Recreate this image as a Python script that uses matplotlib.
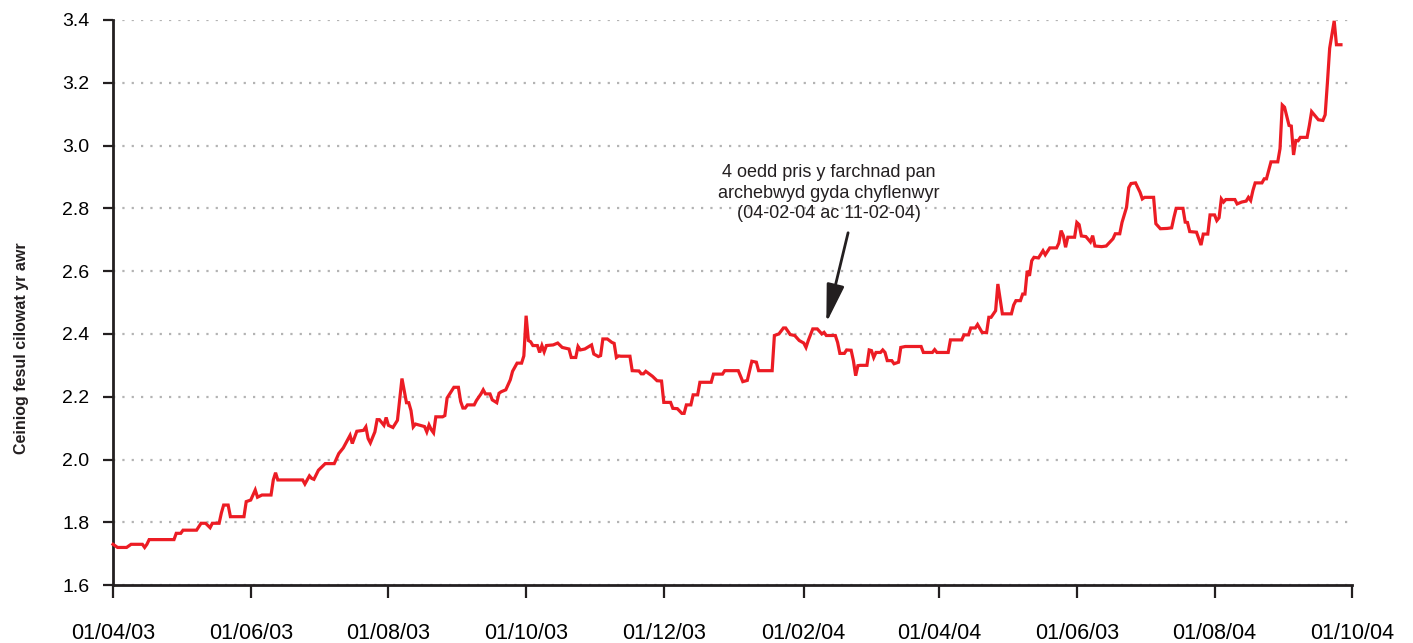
import pandas as pd
import matplotlib
matplotlib.use('Agg')
import matplotlib.pyplot as plt

plt.rcParams['font.family'] = ['Liberation Sans', 'DejaVu Sans']

# pris y farchnad (ceiniog/kWh)
dates_2003 = ['04-01', '04-03', '04-07', '04-09', '04-14', '04-15', '04-16', '04-17', '04-28', '04-29',
              '05-01', '05-02', '05-08', '05-10', '05-12', '05-14', '05-15', '05-18', '05-19', '05-20',
              '05-22', '05-23', '05-29', '05-30', '06-01', '06-03', '06-04', '06-06', '06-10', '06-11',
              '06-12', '06-13', '06-24', '06-25', '06-27', '06-28', '06-29', '07-01', '07-04', '07-08',
              '07-10', '07-12', '07-15', '07-16', '07-18', '07-21', '07-22', '07-23', '07-24', '07-26',
              '07-27', '07-28', '07-30', '07-31', '08-01', '08-03', '08-05', '08-07', '08-09', '08-10',
              '08-11', '08-12', '08-13', '08-15', '08-17', '08-18', '08-19', '08-20', '08-21', '08-22',
              '08-25', '08-26', '08-27', '08-30', '09-01', '09-02', '09-03', '09-04', '09-05', '09-08',
              '09-09', '09-11', '09-12', '09-13', '09-15', '09-16', '09-18', '09-19', '09-20', '09-22',
              '09-24', '09-25', '09-27', '09-29', '09-30', '10-01', '10-02', '10-03', '10-04', '10-06',
              '10-07', '10-08', '10-09', '10-10', '10-13', '10-15', '10-17', '10-20', '10-21', '10-23',
              '10-24', '10-25', '10-27', '10-30', '10-31', '11-02', '11-03', '11-04', '11-06', '11-08',
              '11-09', '11-10', '11-11', '11-12', '11-16', '11-17', '11-20', '11-21', '11-22', '11-23',
              '11-26', '11-28', '11-30', '12-01', '12-04', '12-05', '12-07', '12-09', '12-10', '12-11',
              '12-13', '12-14', '12-16', '12-17', '12-22', '12-23', '12-27', '12-28']
price_2003 = [1.73, 1.72, 1.72, 1.73, 1.73, 1.72, 1.73, 1.745, 1.745, 1.765,
              1.765, 1.775, 1.775, 1.797, 1.797, 1.783, 1.797, 1.797, 1.83, 1.855,
              1.855, 1.818, 1.818, 1.866, 1.871, 1.903, 1.88, 1.887, 1.887, 1.935,
              1.958, 1.935, 1.935, 1.922, 1.948, 1.94, 1.937, 1.966, 1.987, 1.987,
              2.019, 2.037, 2.077, 2.051, 2.09, 2.093, 2.104, 2.067, 2.053, 2.088,
              2.127, 2.127, 2.109, 2.134, 2.109, 2.102, 2.125, 2.258, 2.181, 2.181,
              2.156, 2.104, 2.113, 2.109, 2.105, 2.088, 2.11, 2.095, 2.085, 2.136,
              2.136, 2.14, 2.196, 2.23, 2.23, 2.185, 2.164, 2.164, 2.174, 2.174,
              2.188, 2.209, 2.222, 2.209, 2.209, 2.19, 2.181, 2.211, 2.216, 2.222,
              2.254, 2.281, 2.307, 2.307, 2.33, 2.458, 2.379, 2.375, 2.363, 2.363,
              2.341, 2.363, 2.343, 2.363, 2.365, 2.371, 2.357, 2.352, 2.325, 2.325,
              2.36, 2.349, 2.352, 2.365, 2.336, 2.328, 2.331, 2.384, 2.384, 2.373,
              2.37, 2.325, 2.33, 2.329, 2.329, 2.283, 2.282, 2.273, 2.273, 2.281,
              2.265, 2.251, 2.25, 2.182, 2.182, 2.163, 2.162, 2.147, 2.147, 2.174,
              2.174, 2.206, 2.206, 2.246, 2.246, 2.272, 2.272, 2.283]

dates_2004 = ['01-03', '01-05', '01-07', '01-09', '01-11', '01-12', '01-18', '01-19', '01-21', '01-23',
              '01-24', '01-26', '01-28', '01-30', '02-01', '02-02', '02-03', '02-05', '02-07', '02-09',
              '02-10', '02-11', '02-15', '02-16', '02-17', '02-19', '02-20', '02-22', '02-23', '02-24',
              '02-25', '02-26', '02-29', '03-01', '03-02', '03-03', '03-04', '03-06', '03-07', '03-08',
              '03-09', '03-11', '03-12', '03-14', '03-15', '03-17', '03-24', '03-25', '03-29', '03-30',
              '03-31', '04-05', '04-06', '04-11', '04-12', '04-14', '04-15', '04-17', '04-18', '04-20',
              '04-22', '04-23', '04-24', '04-26', '04-27', '04-29', '05-03', '05-04', '05-05', '05-07',
              '05-08', '05-09', '05-10', '05-11', '05-12', '05-13', '05-15', '05-17', '05-18', '05-20',
              '05-23', '05-24', '05-25', '05-26', '05-27', '05-28', '05-31', '06-01', '06-02', '06-03',
              '06-05', '06-07', '06-08', '06-09', '06-12', '06-14', '06-17', '06-18', '06-20', '06-21',
              '06-23', '06-24', '06-25', '06-27', '06-29', '06-30', '07-01', '07-05', '07-06', '07-08',
              '07-11', '07-13', '07-14', '07-15', '07-18', '07-19', '07-20', '07-21', '07-24', '07-26',
              '07-27', '07-29', '07-30', '08-01', '08-02', '08-03', '08-04', '08-05', '08-06', '08-10',
              '08-11', '08-13', '08-15', '08-16', '08-17', '08-18', '08-19', '08-22', '08-23', '08-24',
              '08-26', '08-29', '08-30', '08-31', '09-01', '09-03', '09-04', '09-05', '09-06', '09-07',
              '09-08', '09-11', '09-12', '09-13', '09-16', '09-18', '09-19', '09-20', '09-21', '09-23',
              '09-24', '09-26']
price_2004 = [2.283, 2.248, 2.252, 2.313, 2.31, 2.283, 2.283, 2.395, 2.4, 2.419,
              2.419, 2.398, 2.395, 2.379, 2.371, 2.357, 2.379, 2.416, 2.416, 2.4,
              2.405, 2.395, 2.395, 2.373, 2.338, 2.338, 2.349, 2.348, 2.315, 2.267,
              2.299, 2.3, 2.3, 2.349, 2.347, 2.325, 2.341, 2.341, 2.349, 2.341,
              2.315, 2.315, 2.305, 2.31, 2.357, 2.36, 2.36, 2.341, 2.341, 2.35,
              2.341, 2.341, 2.381, 2.381, 2.397, 2.397, 2.419, 2.419, 2.43, 2.405,
              2.404, 2.453, 2.453, 2.474, 2.559, 2.464, 2.464, 2.492, 2.506, 2.506,
              2.527, 2.527, 2.601, 2.585, 2.633, 2.644, 2.642, 2.665, 2.652, 2.674,
              2.674, 2.689, 2.729, 2.713, 2.676, 2.708, 2.708, 2.755, 2.748, 2.712,
              2.71, 2.693, 2.713, 2.68, 2.678, 2.68, 2.703, 2.719, 2.719, 2.755,
              2.803, 2.866, 2.879, 2.881, 2.851, 2.83, 2.835, 2.835, 2.751, 2.735,
              2.736, 2.738, 2.771, 2.8, 2.8, 2.756, 2.755, 2.726, 2.724, 2.683,
              2.718, 2.718, 2.779, 2.779, 2.761, 2.77, 2.83, 2.82, 2.828, 2.828,
              2.814, 2.82, 2.823, 2.835, 2.825, 2.857, 2.881, 2.881, 2.894, 2.894,
              2.948, 2.948, 2.99, 3.129, 3.122, 3.064, 3.062, 2.97, 3.016, 3.015,
              3.026, 3.026, 3.064, 3.108, 3.082, 3.08, 3.098, 3.2, 3.31, 3.397,
              3.321, 3.321]

tick_dates = ['2003-04-01', '2003-06-01', '2003-08-01', '2003-10-01', '2003-12-01',
              '2004-02-01', '2004-04-01', '2004-06-01', '2004-08-01', '2004-10-01']
# the second 01/06 label reads "03" in the original
tick_labels = ['01/04/03', '01/06/03', '01/08/03', '01/10/03', '01/12/03',
               '01/02/04', '01/04/04', '01/06/03', '01/08/04', '01/10/04']
y_ticks = [1.6, 1.8, 2.0, 2.2, 2.4, 2.6, 2.8, 3.0, 3.2, 3.4]

note_text = '4 oedd pris y farchnad pan\narchebwyd gyda chyflenwyr\n(04-02-04 ac 11-02-04)'

df = pd.DataFrame({
    'dyddiad': pd.to_datetime(['2003-' + d for d in dates_2003] + ['2004-' + d for d in dates_2004]),
    'pris': price_2003 + price_2004,
})

fig = plt.figure(figsize=(14.13, 6.43), dpi=100)
ax = fig.add_axes([0.080, 0.090, 0.877, 0.879])

ax.plot(df['dyddiad'], df['pris'], color='#ec1c24', lw=2.3, solid_joinstyle='miter', clip_on=False, zorder=3)

ax.set_xlim(pd.Timestamp('2003-04-01'), pd.Timestamp('2004-10-01'))
ax.set_ylim(1.6, 3.4)
ax.set_xticks(pd.to_datetime(tick_dates))
ax.set_xticklabels(tick_labels)
ax.set_yticks(y_ticks)
ax.set_yticklabels(['%.1f' % v for v in y_ticks])

ax.yaxis.grid(True, color='#b3b3b3', lw=1.6, linestyle=(0, (1, 3.2)))
ax.set_axisbelow(True)

for s in ['top', 'right']:
    ax.spines[s].set_visible(False)
for s in ['left', 'bottom']:
    ax.spines[s].set_linewidth(2)
    ax.spines[s].set_color('#231f20')

ax.tick_params(axis='y', direction='out', length=7, width=1.6, color='#231f20', labelsize=14, pad=10)
ax.tick_params(axis='x', direction='out', length=9, width=1.6, color='#231f20', labelsize=15.5, pad=18)

ax.set_ylabel('Ceiniog fesul cilowat yr awr', fontsize=11.5, fontweight='bold', color='#231f20')
ax.yaxis.set_label_coords(-0.068, 0.42)

ax.annotate(note_text, xy=(pd.Timestamp('2004-02-11'), 2.435),
            xytext=(pd.Timestamp('2004-02-12'), 2.94),
            ha='center', va='top', fontsize=13, color='#231f20', linespacing=1.25,
            arrowprops=dict(arrowstyle='-|>,head_length=1.3,head_width=0.3', color='#231f20',
                            lw=2, mutation_scale=18, shrinkA=6, shrinkB=0,
                            relpos=(0.6, 0.0)))

fig.savefig('out.png', dpi=100)
